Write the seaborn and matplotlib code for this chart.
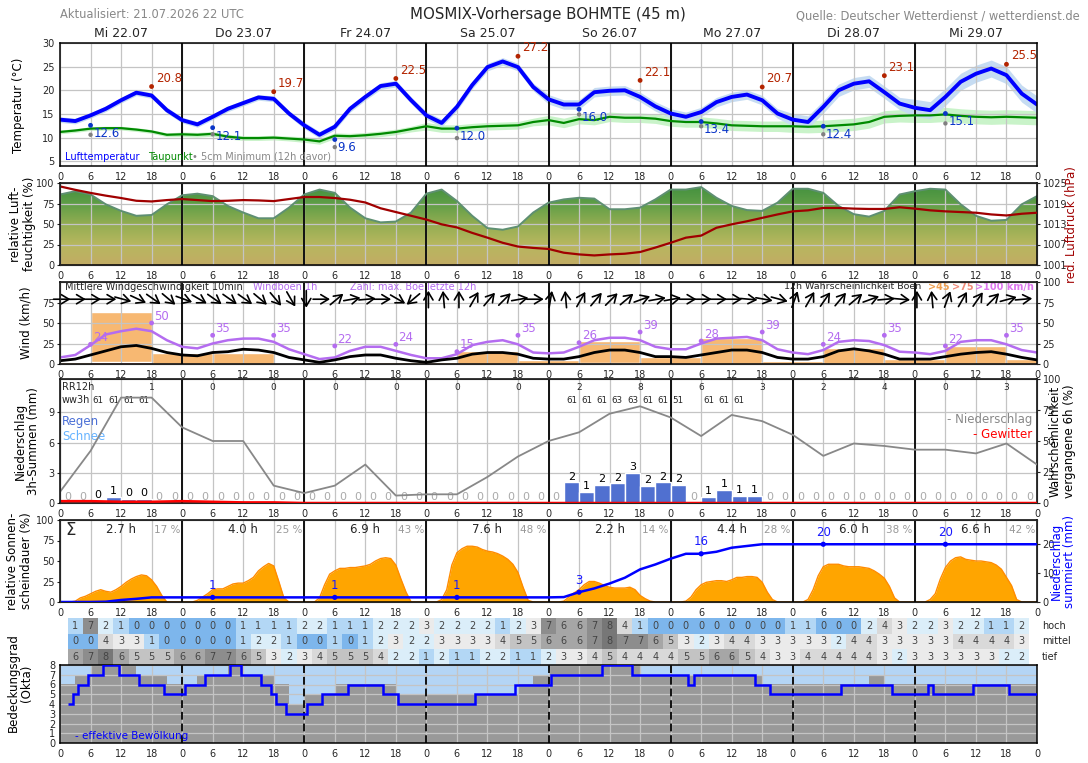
import numpy as np
import matplotlib
matplotlib.use("Agg")
import matplotlib.pyplot as plt
import matplotlib.transforms as mtransforms
from matplotlib.colors import LinearSegmentedColormap
import seaborn as sns

sns.set_style("white")
plt.rcParams["font.family"] = ["DejaVu Sans"]

# ---------------- data ----------------
day_labels = ["Mi 22.07", "Do 23.07", "Fr 24.07", "Sa 25.07",
              "So 26.07", "Mo 27.07", "Di 28.07", "Mi 29.07"]
h3 = np.arange(0, 193, 3)      # 3-hourly time axis
h1 = np.arange(0, 193, 1)      # hourly time axis
h6 = np.arange(0, 193, 6)
h_morning = np.arange(8) * 24 + 6
h_evening = np.arange(8) * 24 + 18

# temperature / dew point (3h)
temp = np.array([13.8, 13.5, 14.7, 16.1, 17.9, 19.5, 18.9, 15.8,
                 13.7, 12.8, 14.4, 16.1, 17.3, 18.5, 18.2, 15.1,
                 12.6, 10.6, 12.3, 16.1, 18.6, 20.9, 21.4, 17.9,
                 14.7, 13.1, 16.5, 21.1, 24.9, 26.1, 24.9, 20.7,
                 18.1, 17.0, 17.0, 19.6, 19.9, 20.0, 18.6, 16.6,
                 15.1, 14.4, 15.4, 17.5, 18.6, 19.1, 17.9, 15.1,
                 13.8, 13.3, 16.5, 20.0, 21.4, 21.9, 19.6, 17.2,
                 16.3, 15.8, 18.6, 21.8, 23.5, 24.6, 23.2, 19.3, 17.0])
dew = np.array([11.2, 11.5, 11.9, 12.0, 12.0, 11.7, 11.3, 10.6,
                10.7, 10.6, 10.8, 10.2, 9.9, 9.9, 10.0, 9.8,
                9.6, 9.2, 10.4, 10.3, 10.5, 10.8, 11.2, 11.8,
                12.4, 11.9, 11.9, 12.2, 12.4, 12.5, 12.6, 13.3,
                13.7, 13.1, 13.9, 13.7, 14.4, 14.2, 14.2, 14.0,
                13.5, 13.3, 13.3, 13.0, 12.6, 12.5, 12.4, 12.4,
                12.4, 12.3, 12.4, 12.6, 12.8, 13.3, 14.4, 14.6,
                14.7, 14.7, 14.9, 14.6, 14.4, 14.3, 14.4, 14.3, 14.2])
temp_spread_day = [0.6, 0.6, 0.7, 0.8, 1.0, 1.0, 1.3, 1.8]
dew_spread_day = [0.4, 0.5, 0.6, 0.8, 1.0, 1.1, 1.3, 1.5]
tmin = [12.6, 12.1, 9.6, 12.0, 16.0, 13.4, 12.4, 15.1]
tground = [10.6, 10.7, 8.0, 9.9, 14.9, 12.4, 10.7, 13.0]
tmax = [20.8, 19.7, 22.5, 27.2, 22.1, 20.7, 23.1, 25.5]

# humidity (%) and pressure (hPa), 3h
hum = np.array([86, 90, 86, 74, 66, 60, 61, 74,
                85, 87, 84, 72, 64, 57, 57, 70,
                86, 92, 88, 70, 57, 52, 53, 64,
                87, 92, 78, 60, 45, 43, 47, 64,
                76, 80, 82, 81, 68, 68, 70, 80,
                92, 92, 95, 82, 72, 67, 66, 76,
                93, 93, 88, 72, 62, 59, 66, 86,
                90, 93, 92, 74, 60, 54, 55, 74, 84])
pressure = np.array([1024.0, 1023.0, 1022.1, 1021.3, 1020.6, 1019.8, 1019.6, 1020.0,
                     1020.3, 1020.0, 1019.7, 1019.8, 1020.0, 1019.9, 1019.7, 1020.3,
                     1020.9, 1020.9, 1020.6, 1020.1, 1019.3, 1017.6, 1016.5, 1015.4,
                     1014.3, 1012.9, 1012.0, 1010.4, 1009.0, 1007.5, 1006.4, 1006.0,
                     1005.7, 1004.6, 1004.1, 1003.8, 1004.1, 1004.3, 1004.8, 1006.1,
                     1007.5, 1009.0, 1009.6, 1011.9, 1012.9, 1013.8, 1014.8, 1015.8,
                     1016.7, 1017.0, 1017.7, 1017.7, 1017.5, 1017.4, 1017.4, 1017.9,
                     1017.5, 1017.0, 1016.7, 1016.5, 1016.3, 1015.8, 1015.5, 1016.0, 1016.3])

# wind (km/h), 3h
wind_mean = np.array([4, 6, 11, 16, 21, 22.6, 19, 14,
                      11, 10, 14, 15, 18, 17, 14, 8,
                      5, 2, 5, 9, 11, 11, 7, 4,
                      2, 5, 7, 12, 14, 14, 12, 7,
                      6, 6, 9, 14, 17, 17, 14, 9,
                      9, 8, 11, 14, 17, 17, 14, 8,
                      6, 6, 9, 16, 18.5, 16, 12, 6,
                      6, 6, 9, 12, 14, 15, 12, 8, 5])
wind_gust = np.array([8, 11, 23, 36, 40, 43, 40, 29,
                      21, 19, 25, 29, 31, 31, 27, 18,
                      12, 6, 8, 16, 21, 21, 16, 11,
                      7, 7, 12, 23, 27, 29, 24, 14,
                      13, 14, 21, 29, 32, 32, 29, 21,
                      18, 18, 25, 31, 32, 33, 29, 18,
                      14, 12, 17, 27, 29, 28, 23, 15,
                      14, 12, 16, 27, 29, 29, 24, 17, 14])
wind_dir = [270, 270, 270, 270, 285, 295, 305, 310,
            290, 300, 305, 305, 305, 310, 320, 330,
            360, 270, 230, 260, 265, 270, 300, 50,
            180, 175, 180, 210, 220, 225, 260, 270,
            190, 175, 210, 220, 225, 230, 250, 260,
            260, 270, 270, 270, 270, 275, 280, 285,
            200, 210, 215, 220, 230, 250, 265, 275,
            180, 175, 200, 210, 215, 225, 255, 265]
gust_max = [24, 50, 35, 35, 22, 24, 15, 35, 26, 39, 28, 39, 24, 35, 22, 35]
gust_prob45 = [2, 64, 14, 14, 1, 2, 2, 16, 5, 28, 8, 32, 4, 20, 6, 22, 6]
gust_prob75 = [0, 2, 0, 0, 0, 0, 0, 0, 0, 1, 0, 0, 0, 0, 0, 0, 0]

# precipitation
precip3h = np.array([0, 0, 0.2, 0.6, 0.4, 0.4, 0, 0,
                     0, 0, 0, 0, 0, 0, 0, 0,
                     0, 0, 0, 0, 0, 0, 0, 0,
                     0, 0, 0, 0, 0, 0, 0, 0,
                     0, 2.05, 1.1, 1.8, 1.95, 3.0, 1.7, 2.05,
                     1.8, 0, 0.6, 1.3, 0.7, 0.7, 0, 0,
                     0, 0, 0, 0, 0, 0, 0, 0,
                     0, 0, 0, 0, 0, 0, 0, 0])
precip_prob = [9, 42, 85, 85, 61, 50, 50, 14, 8, 14, 31, 6, 7, 7, 21, 37.5,
               50, 57, 72, 78, 69, 54, 71, 66, 55, 38, 48, 46, 43, 43, 40, 48, 31]
thunder_prob = [1.5, 1.5, 1, 1, 1.5, 1, 0.5, 0.5, 0, 0, 0, 0, 0, 0, 0, 0,
                0, 0, 0, 0, 0, 0, 0, 0, 0, 0, 0, 0, 0, 0, 0, 0, 0]
rr12 = [1, 0, 0, 0, 0, 0, 0, 2, 8, 6, 3, 2, 4, 0, 3]
ww_slot = [2, 3, 4, 5, 33, 34, 35, 36, 37, 38, 39, 40, 42, 43, 44]
ww_code = [61, 61, 61, 61, 61, 61, 61, 63, 63, 61, 61, 51, 61, 61, 61]

# sunshine (% per hour) and summed precipitation (mm, 3h)
sun = np.array(
    [0, 0, 0, 1, 5, 7, 10, 13, 15, 13, 12, 15, 19, 24, 28, 31, 33, 32, 27, 19, 8, 0, 0, 0]
    + [0, 0, 0, 2, 6, 10, 15, 16, 16, 19, 22, 23, 23, 26, 30, 38, 43, 47, 44, 25, 5, 0, 0, 0]
    + [0, 0, 0, 5, 21, 34, 38, 41, 41, 42, 42, 43, 44, 46, 50, 53, 54, 53, 45, 28, 12, 0, 0, 0]
    + [0, 0, 0, 3, 15, 45, 60, 65, 68, 68, 67, 64, 62, 61, 59, 56, 52, 46, 36, 18, 2, 0, 0, 0]
    + [0, 0, 0, 1, 6, 11, 15, 21, 25, 25, 23, 20, 18, 17, 17, 17, 18, 15, 8, 4, 1, 0, 0, 0]
    + [0, 0, 0, 1, 6, 15, 21, 24, 25, 26, 26, 25, 27, 30, 30, 31, 31, 30, 24, 12, 3, 0, 0, 0]
    + [0, 0, 0, 3, 15, 32, 43, 46, 46, 46, 44, 43, 43, 43, 42, 41, 38, 34, 29, 19, 5, 0, 0, 0]
    + [0, 0, 0, 3, 10, 28, 42, 50, 54, 55, 52, 51, 50, 50, 49, 48, 45, 40, 30, 20, 3, 0, 0, 0]
    + [0])
sun_hours = ["2.7 h", "4.0 h", "6.9 h", "7.6 h", "2.2 h", "4.4 h", "6.0 h", "6.6 h"]
sun_pct = ["17 %", "25 %", "43 %", "48 %", "14 %", "28 %", "38 %", "42 %"]
precip_sum = np.array([0, 0, 0, 0.1, 0.7, 1.1, 1.6, 1.6]
                      + [1.6] * 24
                      + [1.6, 1.7, 3.4, 4.7, 6.4, 8.4, 11.3, 13.0]
                      + [15.0, 16.7, 16.7, 17.4, 18.8, 19.4, 20.0, 20.0]
                      + [20.0] * 17)

# cloud layers (okta), 3h from 3 UTC
cloud_high = [1, 7, 2, 1, 0, 0, 0, 0, 0, 0, 0, 1, 1, 1, 1, 2, 2, 1, 1, 1, 2, 2, 2, 3, 2, 2, 2, 2, 1, 2, 3,
              7, 6, 6, 7, 8, 4, 1, 0, 0, 0, 0, 0, 0, 0, 0, 0, 1, 1, 0, 0, 0, 2, 4, 3, 2, 2, 3, 2, 2, 1, 1, 2]
cloud_mid = [0, 0, 4, 3, 3, 1, 0, 0, 0, 0, 0, 1, 2, 2, 1, 0, 0, 1, 0, 1, 2, 3, 2, 2, 3, 3, 3, 3, 4, 5, 5,
             6, 6, 6, 7, 8, 7, 7, 6, 5, 3, 2, 3, 4, 4, 3, 3, 3, 3, 3, 2, 4, 4, 3, 3, 3, 3, 3, 4, 4, 4, 4, 3]
cloud_low = [6, 7, 8, 6, 5, 5, 5, 6, 6, 7, 7, 6, 5, 3, 2, 3, 4, 5, 5, 5, 4, 2, 2, 1, 2, 1, 1, 2, 2, 1, 1,
             2, 3, 3, 4, 5, 4, 4, 4, 4, 5, 5, 6, 6, 5, 4, 3, 3, 4, 4, 4, 4, 4, 3, 2, 3, 3, 3, 3, 3, 3, 2, 2]
cloud_total = [6, 7, 8, 8, 8, 7, 7, 6, 6, 7, 7, 8, 7, 7, 6, 4,
               5, 5, 6, 6, 6, 6, 5, 5, 5, 5, 5, 5, 5, 5, 6, 7,
               8, 8, 8, 8, 8, 8, 7, 7, 7, 7, 7, 7, 7, 7, 6, 6,
               6, 6, 6, 6, 6, 7, 6, 6, 6, 6, 6, 6, 6, 6, 6, 6]
eff_edges = [1.5, 2.5, 3.5, 5.5, 8.5, 11.5, 15.5, 20.5, 24.5, 28.5, 33.5, 35.5, 39.5,
             41.5, 42.5, 44.5, 48.5, 51.5, 56.5, 63.5, 66.5, 81.5, 89.5, 96.5, 106.5,
             112.5, 123.5, 124.5, 136.5, 139.5, 153.5, 163.5, 170.5, 171.5, 179.5, 186.5, 192]
eff_okta = [4, 5, 6, 7, 8, 7, 6, 5, 6, 7, 8, 7, 6, 5, 4, 3, 4, 5, 6, 5, 4, 5, 6, 7, 8, 7,
            6, 7, 6, 5, 6, 5, 6, 5, 6, 5]
cell_colors = {0: "#7db6ec", 1: "#b3d7f5", 2: "#dbeef9", 3: "#ebebeb", 4: "#d9d9d9",
               5: "#c3c3c3", 6: "#a6a6a6", 7: "#8d8d8d", 8: "#777777"}

# ---------------- figure ----------------
W, H = 1088, 763
fig = plt.figure(figsize=(W / 100, H / 100), dpi=100)
tick_lab = [str(h % 24) for h in h6]
PURPLE = "#b46cf0"


def panel(top, bottom, ylim, yticks, ygrid=True, dayls="-"):
    ax = fig.add_axes([60 / W, 1 - bottom / H, 977 / W, (bottom - top) / H])
    ax.set_xlim(0, 192)
    ax.set_ylim(*ylim)
    ax.set_xticks(h6)
    ax.set_xticklabels(tick_lab)
    ax.set_yticks(yticks)
    ax.tick_params(labelsize=7, length=2.5, pad=1.5, width=0.8)
    ax.grid(axis="x", color="#c4c4c4", lw=0.9)
    if ygrid:
        ax.grid(axis="y", color="#c4c4c4", lw=0.9)
    ax.set_axisbelow("line")
    for d in range(24, 192, 24):
        ax.axvline(d, color="#111111", lw=1.4, ls=dayls, zorder=1.8)
    for s in ax.spines.values():
        s.set_linewidth(1.1)
        s.set_color("black")
    return ax


def twin(ax, ylim, yticks):
    tx = ax.twinx()
    tx.set_ylim(*ylim)
    tx.set_yticks(yticks)
    tx.tick_params(labelsize=7, length=2.5, pad=1.5, width=0.8)
    tx.set_xlim(0, 192)
    return tx


def side_label(x, ymid, text, color="black"):
    fig.text(x / W, 1 - ymid / H, text, rotation=90, ha="center", va="center",
             fontsize=8.5, color=color, linespacing=1.1)


# header
fig.text(60 / W, 1 - 15 / H, "Aktualisiert: 21.07.2026 22 UTC", fontsize=8.3,
         color="#888888", va="center")
fig.text(548 / W, 1 - 14 / H, "MOSMIX-Vorhersage BOHMTE (45 m)", fontsize=10.8,
         ha="center", va="center")
fig.text(1080 / W, 1 - 16 / H, "Quelle: Deutscher Wetterdienst / wetterdienst.de",
         fontsize=8.3, color="#888888", ha="right", va="center")

# --- temperature ---
ax_t = panel(43, 166, (4, 30), range(5, 31, 5))
t_spread = np.r_[np.repeat(temp_spread_day, 8), temp_spread_day[-1]]
d_spread = np.r_[np.repeat(dew_spread_day, 8), dew_spread_day[-1]]
ax_t.fill_between(h3, dew - d_spread, dew + d_spread, color="#c9f3c9", lw=0, zorder=1)
ax_t.fill_between(h3, temp - t_spread, temp + t_spread, color="#c6dcf2", lw=0, zorder=1)
sns.lineplot(x=h3, y=dew, ax=ax_t, color="#008a00", lw=1.6, zorder=2)
sns.lineplot(x=h3, y=temp, ax=ax_t, color="#0000ff", lw=2.8, zorder=2.2)
sns.scatterplot(x=h_morning, y=tground, ax=ax_t, color="#808080", s=10, edgecolor="none", zorder=4)
sns.scatterplot(x=h_morning, y=tmin, ax=ax_t, color="#0a35c8", s=12, edgecolor="none", zorder=4)
sns.scatterplot(x=h_evening, y=tmax, ax=ax_t, color="#b32400", s=12, edgecolor="none", zorder=4)
for h, v in zip(h_morning, tmin):
    ax_t.annotate(f"{v:.1f}", (h, v), xytext=(2, -6), textcoords="offset points",
                  fontsize=8.5, color="#0a35c8", va="center")
for h, v in zip(h_evening, tmax):
    ax_t.annotate(f"{v:.1f}", (h, v), xytext=(3, 6), textcoords="offset points",
                  fontsize=8.5, color="#b32400", va="center")
xa = ax_t.get_xaxis_transform()
ax_t.text(1, 0.05, "Lufttemperatur", color="#0000ff", fontsize=7, transform=xa)
ax_t.text(17.3, 0.05, "Taupunkt", color="#008a00", fontsize=7, transform=xa)
ax_t.text(26, 0.05, "\u2022 5cm Minimum (12h davor)", color="#888888", fontsize=7, transform=xa)
for k, lab in enumerate(day_labels):
    ax_t.text(24 * k + 12, 1.08, lab, transform=xa, ha="center", va="center", fontsize=9)
side_label(19, 105, "Temperatur (°C)")

# --- humidity / pressure ---
ax_h = panel(183, 265, (0, 100), [0, 25, 50, 75, 100])
hum_cmap = LinearSegmentedColormap.from_list(
    "hum", ["#c2ac64", "#b7b75f", "#93ad52", "#5f9e47", "#3f8f3d"])
grad = np.linspace(0, 1, 256).reshape(-1, 1)
area = ax_h.fill_between(h3, 0, hum, color="none", lw=0)
img = ax_h.imshow(grad, extent=[0, 192, 0, 100], origin="lower", aspect="auto",
                  cmap=hum_cmap, zorder=0.5)
img.set_clip_path(area.get_paths()[0], transform=ax_h.transData)
sns.lineplot(x=h3, y=hum, ax=ax_h, color="#5e8f72", lw=1.4, zorder=2)
ax_h.set_xlim(0, 192)
ax_h.set_ylim(0, 100)
ax_p = twin(ax_h, (1001, 1025), [1001, 1007, 1013, 1019, 1025])
sns.lineplot(x=h3, y=pressure, ax=ax_p, color="#a00000", lw=1.6)
side_label(23, 224, "relative Luft-\nfeuchtigkeit (%)")
side_label(1072, 225, "red. Luftdruck (hPa)", color="#a00000")

# --- wind ---
ax_w = panel(282, 364, (0, 100), [0, 25, 50, 75])
edges = np.r_[0, np.arange(6, 192, 12), 192]
ax_w.bar(edges[:-1], gust_prob45, width=np.diff(edges), align="edge", color="#f7b872", zorder=1)
ax_w.bar(edges[:-1], gust_prob75, width=np.diff(edges), align="edge", color="#f08878", zorder=1.1)
sns.lineplot(x=h3, y=wind_gust, ax=ax_w, color=PURPLE, lw=1.8)
sns.lineplot(x=h3, y=wind_mean, ax=ax_w, color="black", lw=2)
gust_h = np.sort(np.r_[h_morning, h_evening])
sns.scatterplot(x=gust_h, y=gust_max, ax=ax_w, color=PURPLE, s=12, edgecolor="none", zorder=4)
for h, v in zip(gust_h, gust_max):
    ax_w.annotate(str(v), (h, v), xytext=(2, 5), textcoords="offset points",
                  fontsize=8.5, color=PURPLE, va="center")
# wind direction arrows (pointing where the wind blows to)
for h, dd in zip(h3[:-1], wind_dir):
    u, v = -np.sin(np.radians(dd)), -np.cos(np.radians(dd))
    head = ax_w.transData + mtransforms.ScaledTranslation(u * 0.085, v * 0.085, fig.dpi_scale_trans)
    tail = ax_w.transData + mtransforms.ScaledTranslation(-u * 0.085, -v * 0.085, fig.dpi_scale_trans)
    ax_w.annotate("", xy=(h + 0.4, 79), xycoords=head, xytext=(h + 0.4, 79), textcoords=tail,
                  arrowprops=dict(arrowstyle="->,head_length=0.5,head_width=0.3", lw=1.2,
                                  color="black", shrinkA=0, shrinkB=0, mutation_scale=11))
xa = ax_w.get_xaxis_transform()
ax_w.text(1, 0.94, "Mittlere Windgeschwindigkeit 10min", fontsize=7, transform=xa, va="center")
ax_w.text(37.9, 0.94, "Windböen 1h", fontsize=7, color=PURPLE, transform=xa, va="center")
ax_w.text(57, 0.94, "Zahl: max. Böe letzte 12h", fontsize=7, color=PURPLE, transform=xa, va="center")
ax_w.text(142.3, 0.94, "12h Wahrscheinlichkeit Böen", fontsize=6.8, transform=xa, va="center")
ax_w.text(170.6, 0.94, ">45", fontsize=7, color="#f0a050", weight="bold", transform=xa, va="center")
ax_w.text(175.2, 0.94, ">75", fontsize=7, color="#f08a78", weight="bold", transform=xa, va="center")
ax_w.text(179.8, 0.94, ">100 km/h", fontsize=7, color="#dd77ee", weight="bold", transform=xa, va="center")
twin(ax_w, (0, 100), [0, 25, 50, 75, 100])
side_label(26, 323, "Wind (km/h)")

# --- precipitation ---
ax_r = panel(379, 503, (0, 12.3), [0, 3, 6, 9])
ax_r.bar(h3[:-1], precip3h, width=3, align="edge", color="#5070d0", zorder=2)
for h, v in zip(h3[:-1], precip3h):
    ax_r.text(h + 1.5, v + 0.05, str(int(round(v))), ha="center", va="bottom", fontsize=8,
              color="#aaaaaa" if v == 0 else "black", zorder=3)
xa = ax_r.get_xaxis_transform()
ax_r.text(0.4, 0.935, "RR12h", fontsize=7, transform=xa, va="center")
ax_r.text(0.4, 0.83, "ww3h", fontsize=7, transform=xa, va="center")
for k, v in enumerate(rr12):
    ax_r.text(18 + 12 * k, 0.935, str(v), fontsize=6.5, ha="center", va="center", transform=xa)
for s, c in zip(ww_slot, ww_code):
    ax_r.text(3 * s + 1.5, 0.83, str(c), fontsize=6.3, ha="center", va="center", transform=xa)
ax_r.text(0.4, 0.66, "Regen", fontsize=8.5, color="#4a6fd6", transform=xa, va="center")
ax_r.text(0.4, 0.54, "Schnee", fontsize=8.5, color="#66b3ff", transform=xa, va="center")
ax_r.text(191, 0.67, "- Niederschlag", fontsize=8.5, color="#888888", ha="right", transform=xa, va="center")
ax_r.text(191, 0.55, "- Gewitter", fontsize=8.5, color="red", ha="right", transform=xa, va="center")
ax_rp = twin(ax_r, (0, 100), [0, 25, 50, 75, 100])
sns.lineplot(x=h6, y=precip_prob, ax=ax_rp, color="#888888", lw=1.3)
sns.lineplot(x=h6, y=thunder_prob, ax=ax_rp, color="red", lw=1.8)
side_label(27, 441, "Niederschlag\n3h-Summen (mm)")
side_label(1062, 441, "Wahrscheinlichkeit\nvergangene 6h (%)")

# --- sunshine ---
ax_s = panel(520, 602, (0, 100), [0, 25, 50, 75, 100], ygrid=False)
ax_s.fill_between(h1, 0, sun, color="#ffa500", lw=0, zorder=1.6)
sns.lineplot(x=h1, y=sun, ax=ax_s, color="#ff8c00", lw=1, zorder=1.7)
xa = ax_s.get_xaxis_transform()
ax_s.text(1.0, 0.88, "\u03a3", fontsize=12, transform=xa, va="center")
for k in range(8):
    ax_s.text(24 * k + 12, 0.88, sun_hours[k], fontsize=8.5, ha="center", va="center", transform=xa)
    ax_s.text(24 * k + 21, 0.88, sun_pct[k], fontsize=7.5, color="#999999", ha="center",
              va="center", transform=xa)
ax_sp = twin(ax_s, (0, 28.4), [0, 10, 20])
sns.lineplot(x=h3, y=precip_sum, ax=ax_sp, color="#0000ff", lw=1.8)
mark_v = precip_sum[h_morning[1:] // 3]
sns.scatterplot(x=h_morning[1:], y=mark_v, ax=ax_sp, color="#0000ff", s=14, edgecolor="none", zorder=4)
for h, v in zip(h_morning[1:], mark_v):
    ax_sp.annotate(str(int(v)), (h, v), xytext=(0, 4), textcoords="offset points",
                   fontsize=8.5, color="#1a1aff", ha="center", va="bottom")
side_label(20, 561, "relative Sonnen-\nscheindauer (%)")
side_label(1063, 561, "Niederschlag\nsummiert (mm)", color="#0000ff")

# --- cloud layers table ---
ax_c = fig.add_axes([60 / W, 1 - 665 / H, 977 / W, 47 / H])
ax_c.set_xlim(0, 192)
ax_c.set_ylim(0, 3)
cl_h = np.arange(3, 190, 3)
for row, vals in enumerate([cloud_low, cloud_mid, cloud_high]):
    ax_c.bar(cl_h, 1, bottom=row, width=3, color=[cell_colors[v] for v in vals], lw=0)
    for h, v in zip(cl_h, vals):
        ax_c.text(h, row + 0.5, str(v), ha="center", va="center", fontsize=7, color="#444444")
ax_c.set_xticks([])
ax_c.set_yticks([])
for s in ax_c.spines.values():
    s.set_visible(False)
for row, name in enumerate(["tief", "mittel", "hoch"]):
    ax_c.text(1.005, (row + 0.5) / 3, name, transform=ax_c.transAxes, fontsize=7, va="center")

# --- cloud cover ---
ax_b = panel(665, 743, (0, 8), range(0, 9), dayls=(0, (4, 2)))
ax_b.set_facecolor("#b4d5f5")
ax_b.fill_between(h3, np.r_[cloud_total, cloud_total[-1]], step="post", color="#999999",
                  lw=0, zorder=1)
ax_b.stairs(eff_okta, eff_edges, baseline=None, color="#0000ff", lw=1.8, zorder=3)
ax_b.text(0.015, 0.03, "- effektive Bewölkung", transform=ax_b.transAxes, fontsize=7.5,
          color="#0000ff", va="bottom")
ax_b.tick_params(axis="y", labelsize=7, pad=1)
side_label(20, 683, "Bedeckungsgrad\n(Okta)")

plt.savefig("out.png", dpi=100)
